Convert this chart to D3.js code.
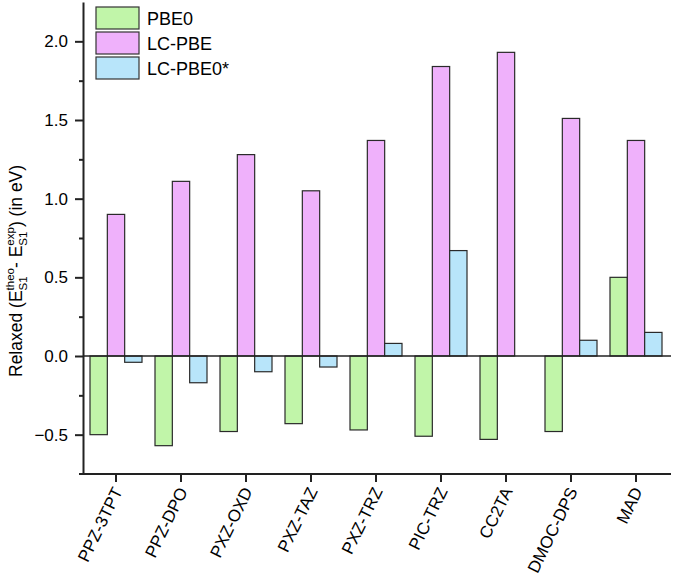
<!DOCTYPE html>
<html><head><meta charset="utf-8">
<script src="https://cdn.jsdelivr.net/npm/d3@7"></script>
<style>body{margin:0;background:#fff}svg{display:block}text{font-family:"Liberation Sans",Arial,sans-serif;fill:#000}</style>
</head><body><svg id="c" width="673" height="582"></svg>
<script>
const categories = ["PPZ-3TPT","PPZ-DPO","PXZ-OXD","PXZ-TAZ","PXZ-TRZ","PIC-TRZ","CC2TA","DMOC-DPS","MAD"];
const seriesNames = ["PBE0","LC-PBE","LC-PBE0*"];
const pbe0    = [-0.50,-0.57,-0.48,-0.43,-0.47,-0.51,-0.53,-0.48,0.50];
const lcpbe   = [0.90,1.11,1.28,1.05,1.37,1.84,1.93,1.51,1.37];
const lcpbe0s = [-0.04,-0.17,-0.10,-0.07,0.08,0.67,0.00,0.10,0.15];
const colors  = ["#c1f5a9","#efb1fb","#b8e5fa"];
const majorTicks = [-0.5,0.0,0.5,1.0,1.5,2.0];
const minorTicks = [-0.25,0.25,0.75,1.25,1.75];

const series = [pbe0, lcpbe, lcpbe0s];
const svg = d3.select("#c");
const y = d3.scaleLinear().domain([-0.75,2.25]).range([474,2]);
const x = d3.scaleBand().domain(categories).range([83.5,668.5]).padding(0);
const x1 = d3.scaleBand().domain(seriesNames).range([0,x.bandwidth()]).paddingInner(0).paddingOuter(0.375);

// bars
const groups = svg.append("g").selectAll("g").data(categories).join("g")
  .attr("transform", d => `translate(${x(d)},0)`);
groups.selectAll("rect").data((d,i) => seriesNames.map((s,k) => ({s, v: series[k][i], k})))
  .join("rect")
  .attr("x", d => x1(d.s))
  .attr("width", x1.bandwidth())
  .attr("y", d => y(Math.max(0,d.v)))
  .attr("height", d => Math.abs(y(d.v)-y(0)))
  .attr("fill", d => colors[d.k])
  .attr("stroke", "#2a2a2a").attr("stroke-width", 1.2);

// zero line
svg.append("line").attr("x1",83).attr("x2",671).attr("y1",y(0)).attr("y2",y(0))
  .attr("stroke","#222").attr("stroke-width",1.6);

// y axis
const ya = svg.append("g").attr("transform","translate(83,0)")
  .call(d3.axisLeft(y).tickValues(majorTicks).tickSize(8).tickSizeOuter(0).tickPadding(7).tickFormat(d3.format(".1f")));
ya.select(".domain").attr("stroke","#222").attr("stroke-width",2);
ya.selectAll(".tick line").attr("stroke","#222").attr("stroke-width",2);
ya.selectAll(".tick text").attr("font-size",17).attr("font-family","Liberation Sans, Arial, sans-serif");
const ym = svg.append("g").attr("transform","translate(83,0)")
  .call(d3.axisLeft(y).tickValues(minorTicks).tickSize(4).tickFormat(""));
ym.select(".domain").remove();
ym.selectAll(".tick line").attr("stroke","#222").attr("stroke-width",2);

// x axis
const xa = svg.append("g").attr("transform","translate(0,474)")
  .call(d3.axisBottom(x).tickSize(8).tickSizeOuter(0));
xa.select(".domain").remove();
xa.selectAll(".tick line").attr("stroke","#222").attr("stroke-width",2);
xa.selectAll(".tick text").attr("font-size",17).attr("font-family","Liberation Sans, Arial, sans-serif")
  .attr("text-anchor","end").attr("dy",null).attr("y",0)
  .attr("transform","translate(7,17) rotate(-64)");
svg.append("line").attr("x1",79).attr("x2",671).attr("y1",474).attr("y2",474)
  .attr("stroke","#222").attr("stroke-width",2);

// legend
const lg = svg.append("g").selectAll("g").data(seriesNames).join("g")
  .attr("transform",(d,i)=>`translate(96,${7+i*25})`);
lg.append("rect").attr("width",43).attr("height",22).attr("fill",(d,i)=>colors[i])
  .attr("stroke","#333").attr("stroke-width",1.2);
lg.append("text").attr("x",51).attr("y",18).attr("font-size",18).text(d=>d);

// y title
const tg = svg.append("g").attr("transform","translate(21.5,377) rotate(-90)");
const tt = tg.append("text").attr("font-size",17.5);
let cx = 0;
function add(str,size,yy){const ts=tt.append("tspan").attr("x",cx).attr("y",yy).attr("font-size",size).text(str);return ts.node().getComputedTextLength();}
cx += add("Relaxed (E",17.5,0);
let a = add("theo",11.5,-8), b = add("S1",11.5,5); cx += Math.max(a,b);
cx += add("- E",17.5,0);
a = add("exp",11.5,-8); b = add("S1",11.5,5); cx += Math.max(a,b);
cx += add(") (in eV)",17.5,0);
</script></body></html>
